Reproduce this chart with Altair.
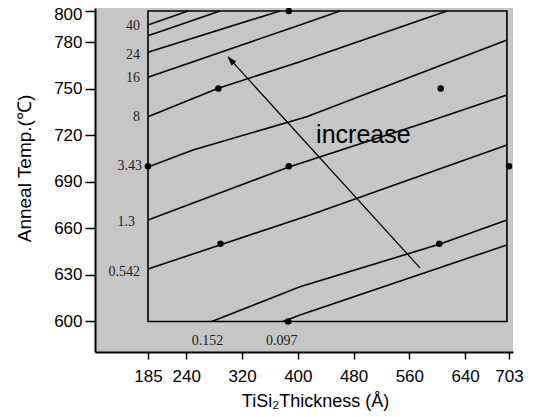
import altair as alt
import pandas as pd

# ---------------- data ----------------
# contour lines (TiSi2 thickness in Å, anneal temperature in °C)
levels = ["40", "32", "24", "16", "8", "3.43", "1.3", "0.542", "0.152", "0.097"]
line_x = [
    [185, 242.4],
    [185, 288.3],
    [185, 374.4],
    [185, 403.1, 460.5],
    [185, 285.9, 403.1, 614.0],
    [185, 249.6, 412.7, 700],
    [185, 386.3, 594.0, 700],
    [185, 288.3, 417.5, 700],
    [276.4, 403.1, 604.0, 700],
    [378.7, 403.1, 700],
]
line_y = [
    [791.0, 800],
    [784.1, 800],
    [773.4, 800],
    [757.3, 791.0, 800],
    [731.8, 750.2, 767.3, 800],
    [699.5, 710.5, 731.9, 781.3],
    [665.4, 699.3, 729.8, 745.9],
    [633.8, 649.3, 668.6, 713.7],
    [600, 622.4, 649.9, 665.4],
    [600, 604.2, 649.3],
]

# design points
pt_x = [185, 286, 289, 387, 387, 386, 605, 603, 703]
pt_y = [700, 750, 650, 800, 700, 600, 750, 650, 700]

# contour labels on the left
lab_text = ["40", "24", "16", "8", "3.43", "1.3", "0.542"]
lab_x = [173.5, 173.5, 173.5, 173.5, 176.4, 166.3, 173.5]
lab_y = [790.3, 771.7, 756.9, 731.9, 700.2, 664.3, 632.0]

# contour labels below
blab_text = ["0.152", "0.097"]
blab_x = [270.4, 376.9]
blab_y = [587.6, 587.6]

# design region
region_x = [185, 700]
region_y = [600, 800]

# arrow (tail -> head) and its caption
arrow_x = [575.3, 299.8]
arrow_y = [634.5, 770.4]
caption = "increase"
caption_x = 494
caption_y = 715

x_ticks = [185, 240, 320, 400, 480, 560, 640, 703]
y_ticks = [600, 630, 660, 690, 720, 750, 780, 800]

# ---------------- tables ----------------
rows = []
for lev, xs, ys in zip(levels, line_x, line_y):
    for i, (a, b) in enumerate(zip(xs, ys)):
        rows.append({"level": lev, "seq": i, "x": a, "y": b})
lines_df = pd.DataFrame(rows)
pts_df = pd.DataFrame({"x": pt_x, "y": pt_y})
lab_df = pd.DataFrame({"x": lab_x, "y": lab_y, "t": lab_text})
blab_df = pd.DataFrame({"x": blab_x, "y": blab_y, "t": blab_text})
rect_df = pd.DataFrame({"x": [region_x[0]], "x2": [region_x[1]],
                        "y": [region_y[0]], "y2": [region_y[1]]})
arrow_df = pd.DataFrame({"x": arrow_x, "y": arrow_y, "seq": [0, 1]})
head_df = pd.DataFrame({"x": [arrow_x[1]], "y": [arrow_y[1]]})
cap_df = pd.DataFrame({"x": [caption_x], "y": [caption_y], "t": [caption]})

FONT = "Liberation Sans"

xscale = alt.Scale(domain=[109, 708.7], nice=False, zero=False)
yscale = alt.Scale(domain=[580.35, 801.9], nice=False, zero=False)

xaxis = alt.Axis(
    values=x_ticks, title="TiSi₂Thickness (Å)", grid=False,
    labelFont=FONT, labelFontSize=17, labelColor="black", labelPadding=9,
    labelOverlap=False, labelFlush=False,
    tickSize=7, tickWidth=1.5, tickColor="black",
    domainColor="black", domainWidth=2,
    titleFont=FONT, titleFontSize=18, titleFontWeight="normal", titleColor="black",
    titleX=220, titleY=40, titleBaseline="top", titleAlign="center",
)
yaxis = alt.Axis(
    values=y_ticks, title="Anneal Temp.(℃)", grid=False,
    labelFont=FONT, labelFontSize=17, labelColor="black", labelPadding=3,
    labelOverlap=False, labelFlush=False,
    labelOffset=alt.expr("datum.value == 800 ? 4 : 0"),
    tickSize=10, tickWidth=1.5, tickColor="black",
    domainColor="black", domainWidth=2,
    titleFont=FONT, titleFontSize=19, titleFontWeight="normal", titleColor="black",
    titleX=-61, titleY=160, titleAngle=270, titleBaseline="bottom", titleAlign="center",
)


def X(f="x"):
    return alt.X(f"{f}:Q", scale=xscale, axis=xaxis)


def Y(f="y"):
    return alt.Y(f"{f}:Q", scale=yscale, axis=yaxis)


rect = alt.Chart(rect_df).mark_rect(fillOpacity=0, stroke="black", strokeWidth=1.6).encode(
    x=X(), x2="x2:Q", y=Y(), y2="y2:Q"
)

lines = alt.Chart(lines_df).mark_line(color="black", strokeWidth=1.6).encode(
    x=X(), y=Y(), detail="level:N", order="seq:Q"
)

points = alt.Chart(pts_df).mark_circle(color="black", opacity=1, size=42).encode(
    x=X(), y=Y()
)

arrow = alt.Chart(arrow_df).mark_line(color="black", strokeWidth=1.2).encode(
    x=X(), y=Y(), order="seq:Q"
)

head = alt.Chart(head_df).mark_point(
    shape="M0,0 L0.33,1 L-0.33,1 Z", filled=True, fill="black", stroke="black",
    strokeWidth=0.5, opacity=1, size=300, angle=318
).encode(x=X(), y=Y())

labels = alt.Chart(lab_df).mark_text(
    font="Liberation Serif", fontSize=14, color="#1a1a1a", align="right", baseline="middle"
).encode(x=X(), y=Y(), text="t:N")

blabels = alt.Chart(blab_df).mark_text(
    font="Liberation Serif", fontSize=14, color="#1a1a1a", align="center", baseline="middle"
).encode(x=X(), y=Y(), text="t:N")

cap = alt.Chart(cap_df).mark_text(
    font=FONT, fontSize=25, color="black", align="center", baseline="alphabetic"
).encode(x=X(), y=Y(), text="t:N")

chart = alt.layer(rect, lines, arrow, head, points, labels, blabels, cap).properties(
    width=418, height=344,
    autosize=alt.AutoSizeParams(type="none"),
    padding={"left": 87, "top": 0, "right": 15, "bottom": 60},
    background="white",
).configure_view(fill="#c6c6c6", stroke=None)

chart.save("out.html", embed_options={"renderer": "svg", "actions": False})
